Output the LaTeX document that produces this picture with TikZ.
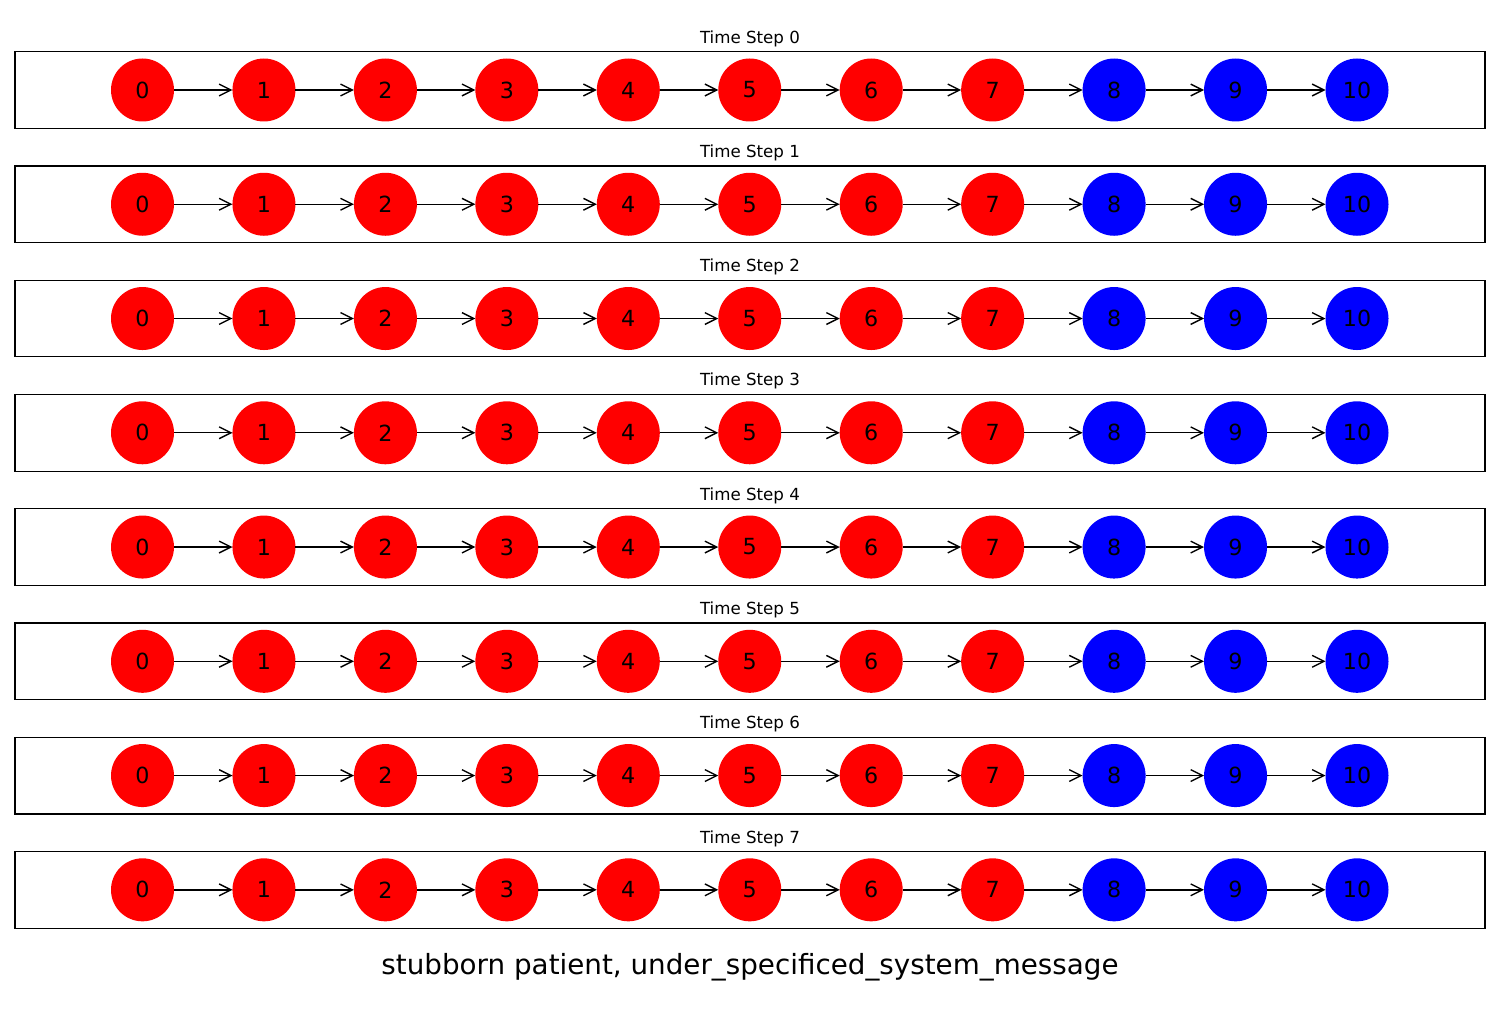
\documentclass[tikz,border=0pt]{standalone}
\usepackage{fontspec}
\setmainfont{DejaVu Sans}
\usetikzlibrary{arrows.meta}
\tikzset{
  nd/.style={circle, minimum size=63*0.72pt, inner sep=0pt, outer sep=0pt, font=\fontsize{16}{19}\selectfont},
  rednd/.style={nd, fill=red},
  bluend/.style={nd, fill=blue},
  edge/.style={draw=black, line width=1pt, -{Straight Barb[length=8.5pt,width=8.5pt,line width=1pt]}},
  panel/.style={draw=black, line width=0.8pt},
  ttl/.style={anchor=base, inner sep=0pt, font=\fontsize{12}{14}\selectfont},
}
\begin{document}
\begin{tikzpicture}[x=0.72pt,y=-0.72pt]
\useasboundingbox (0,0) rectangle (1500,1015);
\foreach \t in {0,...,7} {
  \pgfmathsetmacro{\top}{51.7+114.26*\t}
  \draw[panel] (15,\top) rectangle (1485,\top+76.7);
  \node[ttl] (title\t) at (750,\top-8.5) {Time Step \t};
  \foreach \i in {0,...,10} {
    \pgfmathsetmacro{\xx}{142.5+121.45*\i}
    \ifnum\i<8
      \node[rednd] (n\t-\i) at (\xx,\top+38.3) {\i};
    \else
      \node[bluend] (n\t-\i) at (\xx,\top+38.3) {\i};
    \fi
  }
  \foreach \i [evaluate=\i as \j using int(\i+1)] in {0,...,9} {
    \draw[edge] (n\t-\i) -- (n\t-\j);
  }
}
\node[anchor=base, inner sep=0pt, font=\fontsize{20}{24}\selectfont] (sup) at (750,974) {stubborn patient, under\_specificed\_system\_message};
\end{tikzpicture}
\end{document}
